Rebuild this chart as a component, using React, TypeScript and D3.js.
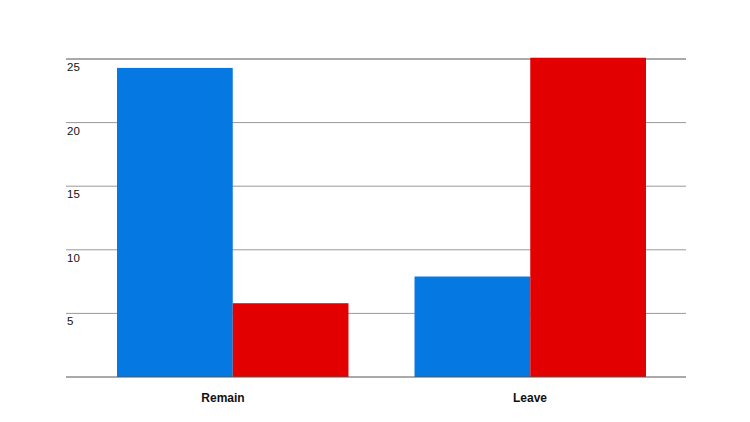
import React from "react";
import * as d3 from "d3";

const categories = ["Remain", "Leave"];
const seriesNames = ["blue", "red"];
const blueValues = [24.3, 7.9];
const redValues = [5.8, 25.1];
const yTicks = [5, 10, 15, 20, 25];
const colors = ["#0578e2", "#e20000"];

export default function App() {
  const W = 750, H = 422;
  const left = 66, right = 686, top = 59, bottom = 377;
  const y = d3.scaleLinear().domain([0, 25]).range([bottom, top]);
  const xAxis = d3.scaleBand<string>().domain(categories).range([left, right]);
  const x0 = d3.scaleBand<string>().domain(categories).range([117, 646]).paddingInner(0.222).paddingOuter(0);
  const x1 = d3.scaleBand<string>().domain(seriesNames).range([0, x0.bandwidth()]);
  const series = [blueValues, redValues];
  return (
    <svg width={W} height={H} style={{ position: "absolute", left: 0, top: 0, background: "#fff" }}
      fontFamily="'Liberation Sans', Arial, sans-serif">
      {yTicks.map((t) => (
        <g key={t}>
          <line x1={left} x2={right} y1={y(t)} y2={y(t)} stroke={t === 25 ? "#555" : "#999"} strokeWidth={1} />
          <text x={left + 1} y={y(t) + 12} fontSize={11.5} fill="#111">{t}</text>
        </g>
      ))}
      {categories.map((c, i) => (
        <g key={c}>
          {seriesNames.map((s, j) => (
            <rect key={s} x={(x0(c) as number) + (x1(s) as number)} width={x1.bandwidth()}
              y={y(series[j][i])} height={bottom - y(series[j][i])} fill={colors[j]} />
          ))}
        </g>
      ))}
      <line x1={left} x2={right} y1={bottom} y2={bottom} stroke="#555" strokeWidth={1} />
      {categories.map((c) => (
        <text key={c} x={(xAxis(c) as number) + xAxis.bandwidth() / 2 + (c === "Remain" ? 2 : -1)} y={402}
          textAnchor="middle" fontSize={12} fontWeight="bold" fill="#111">{c}</text>
      ))}
    </svg>
  );
}
